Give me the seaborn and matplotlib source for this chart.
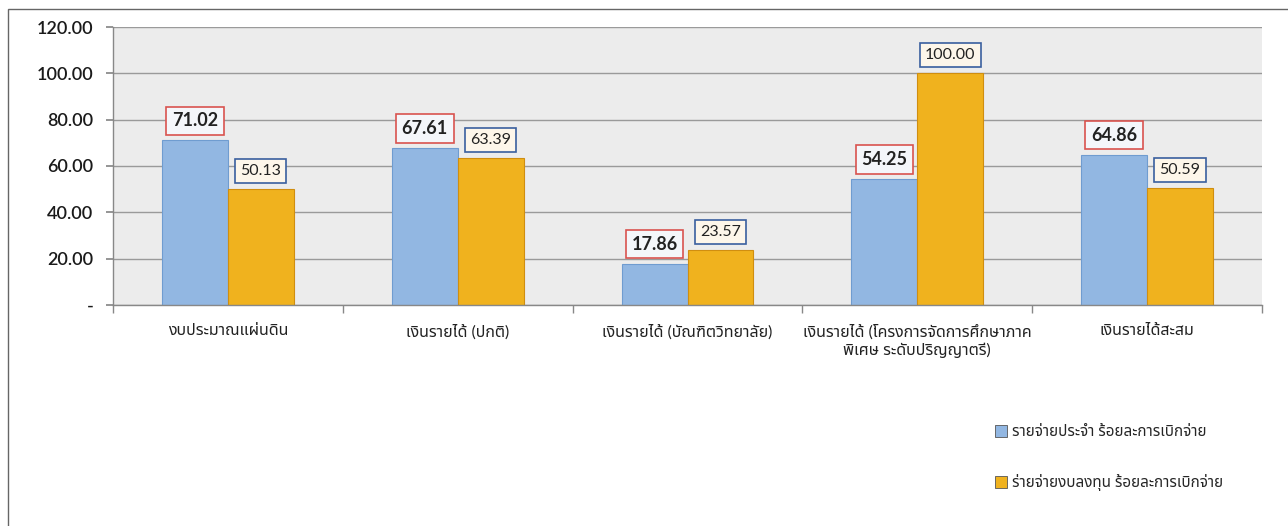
import matplotlib
matplotlib.use("Agg")
import matplotlib.pyplot as plt
from matplotlib import font_manager
from matplotlib.ft2font import FT2Font
from matplotlib.patches import Rectangle
import seaborn as sns
import pandas as pd

categories = [
    "งบประมาณแผ่นดิน",
    "เงินรายได้ (ปกติ)",
    "เงินรายได้ (บัณฑิตวิทยาลัย)",
    "เงินรายได้ (โครงการจัดการศึกษาภาค\nพิเศษ ระดับปริญญาตรี)",
    "เงินรายได้สะสม",
]
series_names = ["รายจ่ายประจำ ร้อยละการเบิกจ่าย", "ร่ายจ่ายงบลงทุน ร้อยละการเบิกจ่าย"]
regular = [71.02, 67.61, 17.86, 54.25, 64.86]
capital = [50.13, 63.39, 23.57, 100.00, 50.59]
yticks = [0, 20, 40, 60, 80, 100, 120]
ytick_labels = ["-", "20.00", "40.00", "60.00", "80.00", "100.00", "120.00"]

# find a font with Thai glyphs
thai_family = None
cands = []
for f in font_manager.fontManager.ttflist:
    try:
        ft = FT2Font(f.fname)
        if ft.get_char_index(0x0E01) and ft.get_char_index(0x0E34):
            cands.append(f.name)
    except Exception:
        pass
pref = ["Tahoma", "Noto Sans Thai", "Noto Sans Thai UI", "Leelawadee UI", "Loma", "Garuda", "Sarabun", "Kinnari", "Waree"]
for p in pref:
    if p in cands:
        thai_family = p
        break
if thai_family is None and cands:
    thai_family = sorted(set(cands))[0]

sns.set_theme(style="white")
fams = ["Lato"]
if thai_family:
    fams.append(thai_family)
fams.append("DejaVu Sans")
plt.rcParams["font.family"] = fams

df = pd.DataFrame({
    "category": categories * 2,
    "series": [series_names[0]] * 5 + [series_names[1]] * 5,
    "value": regular + capital,
})

blue = "#92B7E2"
orange = "#F0B21E"
fig = plt.figure(figsize=(12.88, 5.26), dpi=100)
ax = fig.add_axes([113 / 1288, 1 - 305 / 526, (1262 - 113) / 1288, (305 - 27) / 526])
ax.set_facecolor("#ECECEC")

sns.barplot(data=df, x="category", y="value", hue="series", palette=[blue, orange],
            width=0.574, ax=ax, saturation=1, legend=True)

edges = ["#6F9CD0", "#D08E10"]
label_edge = ["#D9534F", "#3A5F9F"]
label_face = ["#F4F6FA", "#FDF6EA"]
for i, cont in enumerate(ax.containers):
    for bar in cont:
        bar.set_edgecolor(edges[i])
        bar.set_linewidth(0.8)
        h = bar.get_height()
        ax.annotate(f"{h:.2f}", (bar.get_x() + bar.get_width() / 2, h),
                    xytext=(0, 8), textcoords="offset points", ha="center", va="bottom",
                    fontsize=13 if i == 0 else 11.5, fontweight="bold" if i == 0 else "normal",
                    color="#222222",
                    bbox=dict(boxstyle="square,pad=0.32", fc=label_face[i], ec=label_edge[i], lw=1.2))

ax.set_ylim(0, 120)
ax.set_xlim(-0.5, 4.5)
ax.set_yticks(yticks)
ax.set_yticklabels(ytick_labels, fontsize=13, color="#1a1a1a", fontweight="semibold")
ax.yaxis.grid(True, color="#9A9A9A", lw=1.0)
ax.set_axisbelow(True)
ax.set_xlabel("")
ax.set_ylabel("")
ax.tick_params(axis="x", length=0, pad=14, labelsize=11.5, labelcolor="#222222")
ax.set_xticks(range(5))
ax.set_xticklabels(categories, fontsize=11.5, color="#222222")
ax.set_xticks([-0.5, 0.5, 1.5, 2.5, 3.5, 4.5], minor=True)
ax.tick_params(axis="x", which="minor", length=6, color="#888888", direction="out", bottom=True)
ax.tick_params(axis="y", length=5, color="#888888", direction="out", left=True, pad=9)
for s in ["top", "right"]:
    ax.spines[s].set_visible(False)
for s in ["left", "bottom"]:
    ax.spines[s].set_color("#888888")
    ax.spines[s].set_linewidth(1.0)

handles, labels = ax.get_legend_handles_labels()
ax.get_legend().remove()
leg = fig.legend(handles, labels, loc="upper left", bbox_to_anchor=(0.762, 0.218),
                 frameon=False, fontsize=11, handlelength=0.8, handleheight=0.8,
                 handletextpad=0.3, labelspacing=2.3)
for h in leg.legend_handles:
    h.set_edgecolor("#555555")
    h.set_linewidth(0.6)

fig.patches.append(Rectangle((8 / 1288, -0.01), 1.1, 1 - 9 / 526 + 0.01, transform=fig.transFigure,
                             fill=False, ec="#666666", lw=1.0))

fig.savefig("out.png", dpi=100)
